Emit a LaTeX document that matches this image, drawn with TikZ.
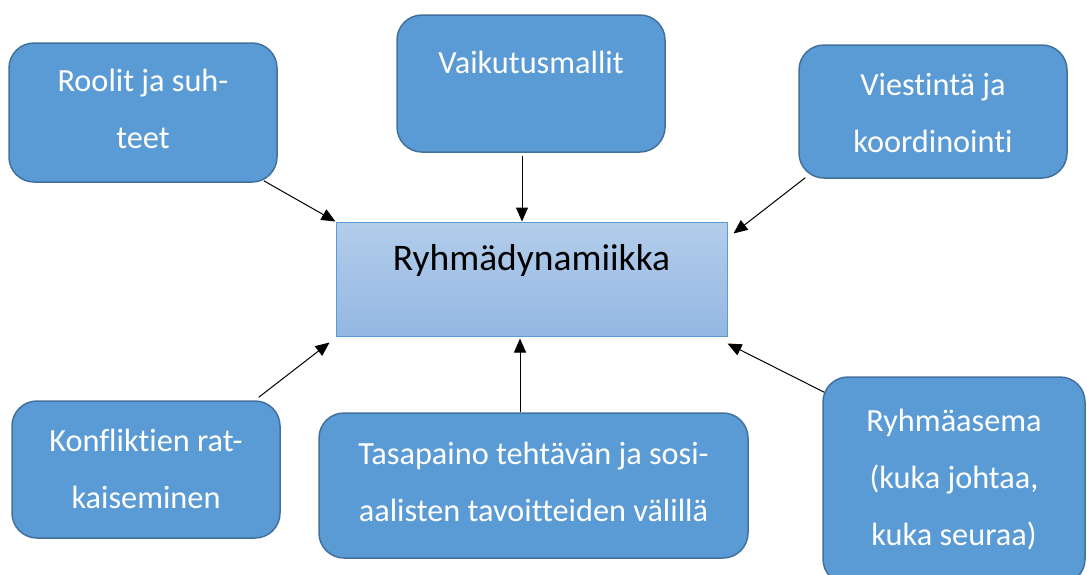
\documentclass[tikz,border=0pt]{standalone}
\usepackage{fontspec}
\setmainfont{Carlito}[Ligatures=CommonOff]
\usetikzlibrary{arrows.meta}
\definecolor{boxblue}{HTML}{5B9BD5}
\definecolor{boxedge}{HTML}{41719C}
\definecolor{dyntop}{HTML}{B3CDEB}
\definecolor{dynbottom}{HTML}{93B7E2}

\begin{document}
\begin{tikzpicture} [x = 1pt, y = -1pt,
  aspect/.style = {draw=boxedge, fill=boxblue, line width=1.5pt, rounded corners=25pt, text=white, font=\fontsize{32.3}{57}\selectfont, align=center, inner sep=0pt, minimum width=268pt},
  core/.style = {draw=boxblue, top color=dyntop, bottom color=dynbottom, line width=1pt, font=\fontsize{37.5}{44}\selectfont, inner sep=0pt, minimum width=391pt, minimum height=114pt},
  link/.style = {-{Triangle[length=14pt, width=12pt]}, line width=1pt}]
\useasboundingbox (0, 0) rectangle (1087, 574);
\node[aspect, minimum height=139pt, text height=81pt, text depth=10pt] (roles) at (143, 112.5) {Roolit ja suh-\\teet};
\node[aspect, minimum height=137pt, text height=24pt, text depth=45pt] (models) at (531, 83.5) {Vaikutusmallit};
\node[aspect, minimum height=133pt, text height=81pt, text depth=0pt] (comms) at (933, 111.5) {Viestintä ja\\koordinointi};
\node[aspect, minimum height=137pt, text height=81pt, text depth=4pt] (conflict) at (146, 469.5) {Konfliktien rat-\\kaiseminen};
\node[aspect, minimum width=429pt, minimum height=145pt, text height=81pt, text depth=10pt] (balance) at (533.5, 485.5) {Tasapaino tehtävän ja sosi-\\aalisten tavoitteiden välillä};
\node[aspect, minimum width=262pt, minimum height=207pt, text height=138pt, text depth=9pt] (status) at (954, 480.5) {Ryhmäasema\\(kuka johtaa,\\kuka seuraa)};
\node[core, text height=28pt, text depth=46pt] (dyn) at (531.5, 279) {Ryhmädynamiikka};
% arrows into the centre box
\draw[link] ([xshift=-14pt, yshift=2pt]roles.south east) -- (dyn.north west);
\draw[link] ([xshift=-9pt, yshift=-3pt]models.south) -- ([xshift=-9.5pt]dyn.north);
\draw[link] ([xshift=7pt, yshift=1pt]comms.south west) -- ([xshift=6pt, yshift=-12pt]dyn.north east);
\draw[link] ([xshift=-22pt, yshift=3pt]conflict.north east) -- ([xshift=-6pt, yshift=-6pt]dyn.south west);
\draw[link] ([xshift=-13.5pt]balance.north) -- ([xshift=-11.5pt, yshift=-2pt]dyn.south);
\draw[link] ([xshift=2pt, yshift=-16pt]status.north west) -- ([yshift=-7pt]dyn.south east);
\end{tikzpicture}
\end{document}
